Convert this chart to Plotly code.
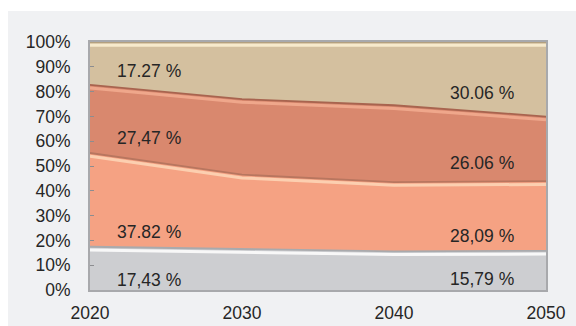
import plotly.graph_objects as go

# Shares of the four groups per year (percent, stacked to 100)
years = [2020, 2030, 2040, 2050]
share_gray = [17.43, 16.5, 15.6, 15.79]
share_light = [37.82, 30.0, 27.9, 28.09]
share_dark = [27.47, 30.5, 31.0, 26.06]
share_tan = [17.27, 23.0, 25.5, 30.06]

# Value labels shown at the first and last year of each band
labels_first = ["17,43 %", "37.82 %", "27,47 %", "17.27 %"]
labels_last = ["15,79 %", "28,09 %", "26.06 %", "30.06 %"]

y_ticks = list(range(0, 101, 10))
y_tick_text = [f"{v}%" for v in y_ticks]

series = [share_gray, share_light, share_dark, share_tan]
fills = ["#cdced1", "#f5a283", "#d9886e", "#d4c09f"]
edges = ["#a9aaad", "#b8765f", "#a8644f", "#b3a07f"]
glows = ["rgba(255,255,255,0.85)", "rgba(255,226,195,0.7)",
         "rgba(245,178,150,0.75)", "rgba(255,244,215,0.8)"]

# label placement (data coordinates) inside each band
lab_y_first = [4.0, 23.4, 61.3, 88.3]
lab_y_last = [4.4, 21.8, 51.2, 79.4]
lab_x_first = 2023.9
lab_x_last = 2045.8

fig = go.Figure()

cum = [0.0] * len(years)
tops = []
for vals, fill in zip(series, fills):
    cum = [c + v for c, v in zip(cum, vals)]
    tops.append(cum)
    fig.add_trace(go.Scatter(
        x=years, y=vals, stackgroup="one", mode="lines",
        line=dict(width=0, color=fill), fillcolor=fill,
        hoverinfo="skip", showlegend=False))

# bevel: a soft highlight just under each band top and a darker rim on top
for top, edge, glow in zip(tops, edges, glows):
    fig.add_trace(go.Scatter(
        x=years, y=[t - 1.3 for t in top], mode="lines",
        line=dict(width=3, color=glow), hoverinfo="skip", showlegend=False))
    fig.add_trace(go.Scatter(
        x=years, y=top, mode="lines",
        line=dict(width=1.8, color=edge), hoverinfo="skip", showlegend=False))

for i in range(len(series)):
    fig.add_annotation(x=lab_x_first, y=lab_y_first[i], text=labels_first[i],
                       showarrow=False, xref="x", yref="y",
                       font=dict(size=17.5, color="#262626"))
    fig.add_annotation(x=lab_x_last, y=lab_y_last[i], text=labels_last[i],
                       showarrow=False, xref="x", yref="y",
                       font=dict(size=17.5, color="#262626"))

# light grey panel behind the chart
fig.add_shape(type="rect", xref="paper", yref="paper",
              x0=(8 - 90) / 456, x1=1.1, y0=-0.2, y1=1 + 31 / 248,
              fillcolor="#f0f1f3", line=dict(width=0), layer="below")

fig.update_layout(
    width=576, height=326,
    margin=dict(l=90, r=30, t=42, b=36, autoexpand=False),
    paper_bgcolor="white", plot_bgcolor="#f0f1f3",
    font=dict(family="Liberation Sans, Arial, sans-serif", size=17.5,
              color="#262626"),
    showlegend=False,
)
fig.update_xaxes(
    range=[2020, 2050], tickvals=years, ticktext=[str(y) for y in years],
    showgrid=True, gridcolor="#a5a5a5", gridwidth=1,
    showline=True, linecolor="#a8a9ac", linewidth=2, mirror=True,
    ticks="", ticklabelstandoff=6, zeroline=False, layer="above traces",
    automargin=False,
)
fig.update_yaxes(
    range=[0, 100], tickvals=y_ticks, ticktext=y_tick_text,
    showgrid=False, showline=True, linecolor="#a8a9ac", linewidth=2,
    mirror=True, ticks="inside", ticklen=4, tickcolor="#8c8d90",
    ticklabelstandoff=14, zeroline=False, layer="above traces",
    automargin=False,
)

fig.write_html("out.html")
